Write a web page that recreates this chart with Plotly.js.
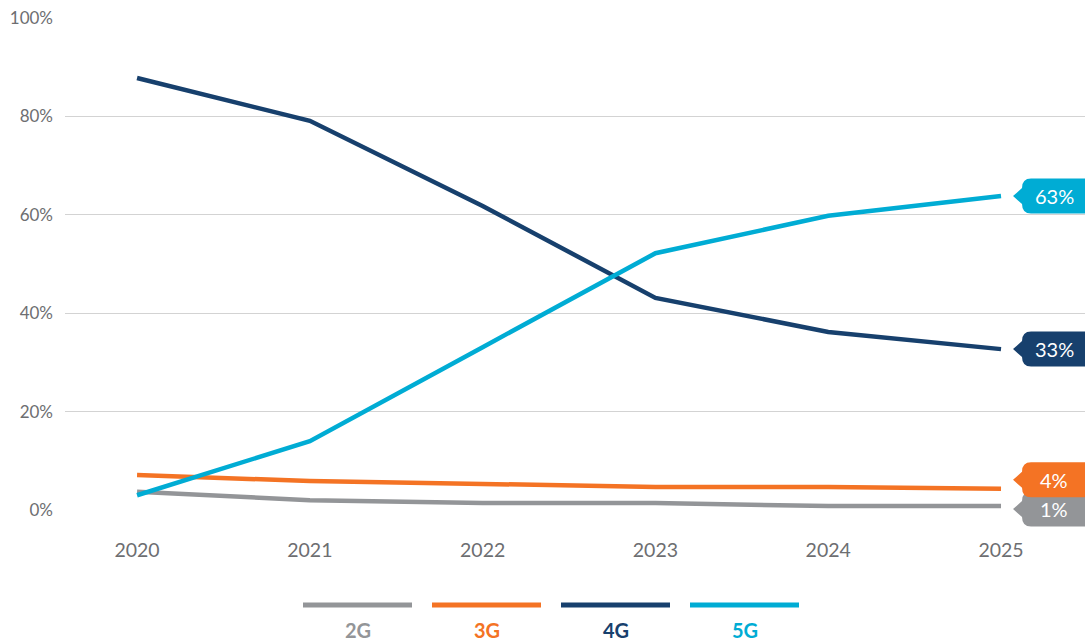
<!DOCTYPE html>
<html><head><meta charset="utf-8">
<script src="https://cdn.plot.ly/plotly-3.0.1.min.js"></script>
<style>html,body{margin:0;padding:0;background:#fff}#chart{width:1085px;height:644px}</style>
</head><body><div id="chart"></div>
<script>
const years = [2020, 2021, 2022, 2023, 2024, 2025];
const seriesNames = ["2G", "3G", "4G", "5G"];
const g2 = [3.7, 2.0, 1.4, 1.4, 0.8, 0.8];
const g3 = [7.1, 5.9, 5.3, 4.7, 4.7, 4.3];
const g4 = [87.8, 79.1, 61.8, 43.1, 36.2, 32.7];
const g5 = [3.0, 14.0, 33.1, 52.2, 59.8, 63.8];
const endLabels = ["1%", "4%", "33%", "63%"];
const yTickVals = [0, 20, 40, 60, 80, 100];
const yTickText = ["0%", "20%", "40%", "60%", "80%", "100%"];

const colors = ["#939598", "#f47324", "#17406d", "#00acd4"];
const values = [g2, g3, g4, g5];
const labelYShift = [-3, 9, 0, 0];  // pixel nudges to keep callouts apart

const xRange = [2019.583, 2025.486];
const yRange = [0, 100];

const traces = values.map((v, i) => ({
  x: years, y: v, type: "scatter", mode: "lines", name: seriesNames[i],
  line: {color: colors[i], width: 4.5}, cliponaxis: false, hoverinfo: "skip"
}));

const shapes = [];
const annotations = [];
const lastX = years[years.length - 1];
const xPaper = (lastX - xRange[0]) / (xRange[1] - xRange[0]);
values.forEach((v, i) => {
  const last = v[v.length - 1];
  const yPaper = (last - yRange[0]) / (yRange[1] - yRange[0]);
  const s = labelYShift[i];
  shapes.push({
    type: "path", xref: "paper", yref: "paper",
    xsizemode: "pixel", ysizemode: "pixel", xanchor: xPaper, yanchor: yPaper,
    path: `M 12 ${s} L 21 ${s+8} Q 21 ${s+17.5} 30 ${s+17.5} L 110 ${s+17.5} L 110 ${s-17.5} L 30 ${s-17.5} Q 21 ${s-17.5} 21 ${s-8} Z`,
    fillcolor: colors[i], line: {width: 0}, layer: "above"
  });
  annotations.push({
    xref: "paper", yref: "paper", x: xPaper, y: yPaper, xshift: 53, yshift: s,
    text: endLabels[i], showarrow: false, xanchor: "center", yanchor: "middle",
    font: {family: "Lato, 'Open Sans', sans-serif", size: 20, color: "#ffffff"}
  });
});

// custom legend below the plot
const plotL = 65, plotW = 1020, plotB = 510, plotH = 492;
seriesNames.forEach((n, i) => {
  const x0 = 303 + i * 129, x1 = x0 + 109;
  shapes.push({
    type: "line", xref: "paper", yref: "paper",
    x0: (x0 - plotL) / plotW, x1: (x1 - plotL) / plotW,
    y0: (plotB - 605) / plotH, y1: (plotB - 605) / plotH,
    line: {color: colors[i], width: 5}
  });
  annotations.push({
    xref: "paper", yref: "paper", x: ((x0 + x1) / 2 - plotL) / plotW, y: (plotB - 630) / plotH,
    text: "<b>" + n + "</b>", showarrow: false, xanchor: "center", yanchor: "middle",
    font: {family: "Lato, 'Open Sans', sans-serif", size: 20, color: colors[i]}
  });
});

const layout = {
  width: 1085, height: 644,
  margin: {l: 65, r: 0, t: 18, b: 134},
  paper_bgcolor: "#ffffff", plot_bgcolor: "#ffffff",
  showlegend: false,
  font: {family: "Lato, 'Open Sans', sans-serif", color: "#6d6e71", size: 17},
  xaxis: {
    range: xRange, tickvals: years, ticktext: years.map(String),
    showgrid: false, zeroline: false, showline: false, ticks: "",
    ticklabelstandoff: 26, tickfont: {size: 19.5, color: "#6d6e71"}
  },
  yaxis: {
    range: yRange, tickvals: yTickVals, ticktext: yTickText,
    showgrid: true, gridcolor: "#d3d3d3", gridwidth: 1, zeroline: false, showline: false,
    ticks: "", ticklabelstandoff: 11, tickfont: {size: 17, color: "#6d6e71"}
  },
  shapes: shapes, annotations: annotations
};

Plotly.newPlot("chart", traces, layout, {displayModeBar: false, staticPlot: true});
</script></body></html>
